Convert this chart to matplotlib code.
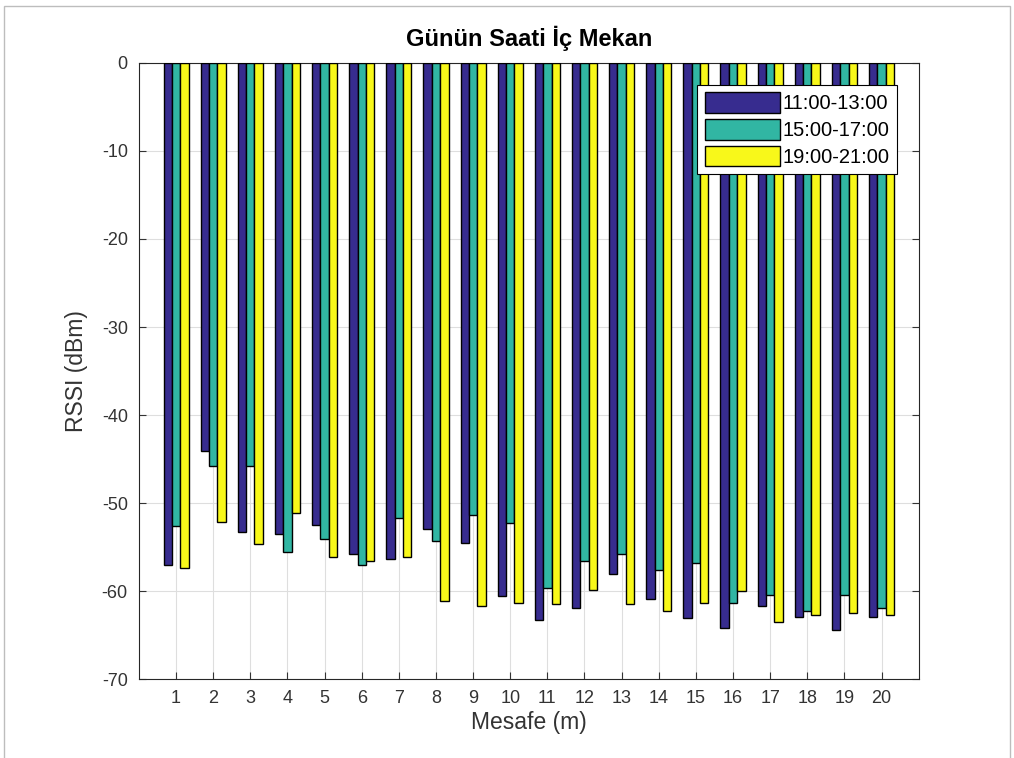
import matplotlib.pyplot as plt
import numpy as np
from matplotlib.patches import Rectangle

plt.rcParams['font.family'] = ['Liberation Sans', 'DejaVu Sans']
plt.rcParams['axes.unicode_minus'] = False

# RSSI readings per distance, three times of day
distances = list(range(1, 21))
series_labels = ["11:00-13:00", "15:00-17:00", "19:00-21:00"]
rssi_noon = [-57.0, -44.1, -53.3, -53.5, -52.5, -55.8, -56.4, -52.9, -54.5, -60.5,
             -63.3, -61.9, -58.0, -60.9, -63.1, -64.2, -61.7, -62.9, -64.4, -62.9]
rssi_afternoon = [-52.6, -45.8, -45.8, -55.5, -54.1, -57.0, -51.7, -54.3, -51.3, -52.3,
                  -59.7, -56.6, -55.8, -57.6, -56.8, -61.3, -60.4, -62.3, -60.4, -61.9]
rssi_evening = [-57.4, -52.1, -54.7, -51.1, -56.1, -56.6, -56.1, -61.1, -61.7, -61.3,
                -61.5, -59.9, -61.5, -62.3, -61.4, -60.0, -63.5, -62.7, -62.5, -62.7]

colors = ["#372C8F", "#31B6A3", "#F8F81A"]

fig = plt.figure(figsize=(10.14, 7.58), dpi=100)
ax = fig.add_axes([0.137, 0.104, 0.769, 0.813])

x = np.array(distances)
width = 0.225
for i, (vals, lab, col) in enumerate(zip([rssi_noon, rssi_afternoon, rssi_evening],
                                         series_labels, colors)):
    ax.bar(x + (i - 1) * width, vals, width, color=col, edgecolor="black",
           linewidth=1.0, label=lab, zorder=3)

ax.set_xlim(0, 21)
ax.set_ylim(-70, 0)
ax.set_xticks(distances)
ax.set_yticks(range(-70, 1, 10))
ax.tick_params(direction="in", top=True, right=True, labelsize=13,
               colors="#333333", length=5, pad=8)
ax.grid(True, color="#dedede", linewidth=0.8, zorder=0)
for s in ax.spines.values():
    s.set_color("#262626")

ax.set_title("Günün Saati İç Mekan", fontsize=17, fontweight="bold", pad=12)
ax.set_xlabel("Mesafe (m)", fontsize=16.5, color="#333333", labelpad=3)
ax.set_ylabel("RSSI (dBm)", fontsize=16.5, color="#333333", labelpad=10)

leg = ax.legend(loc="upper right", fontsize=14.5, handlelength=3.75, handleheight=1.2,
                fancybox=False, framealpha=1, edgecolor="black",
                borderaxespad=1.1, labelspacing=0.28, handletextpad=0.12,
                borderpad=0.35)
leg.get_frame().set_linewidth(0.8)
leg.set_zorder(5)

# thin page border
fig.patches.append(Rectangle((0.004, -0.01), 0.992, 1.002, transform=fig.transFigure,
                             fill=False, edgecolor="#bdbdbd", linewidth=1.0))

fig.savefig("out.png", dpi=100)
